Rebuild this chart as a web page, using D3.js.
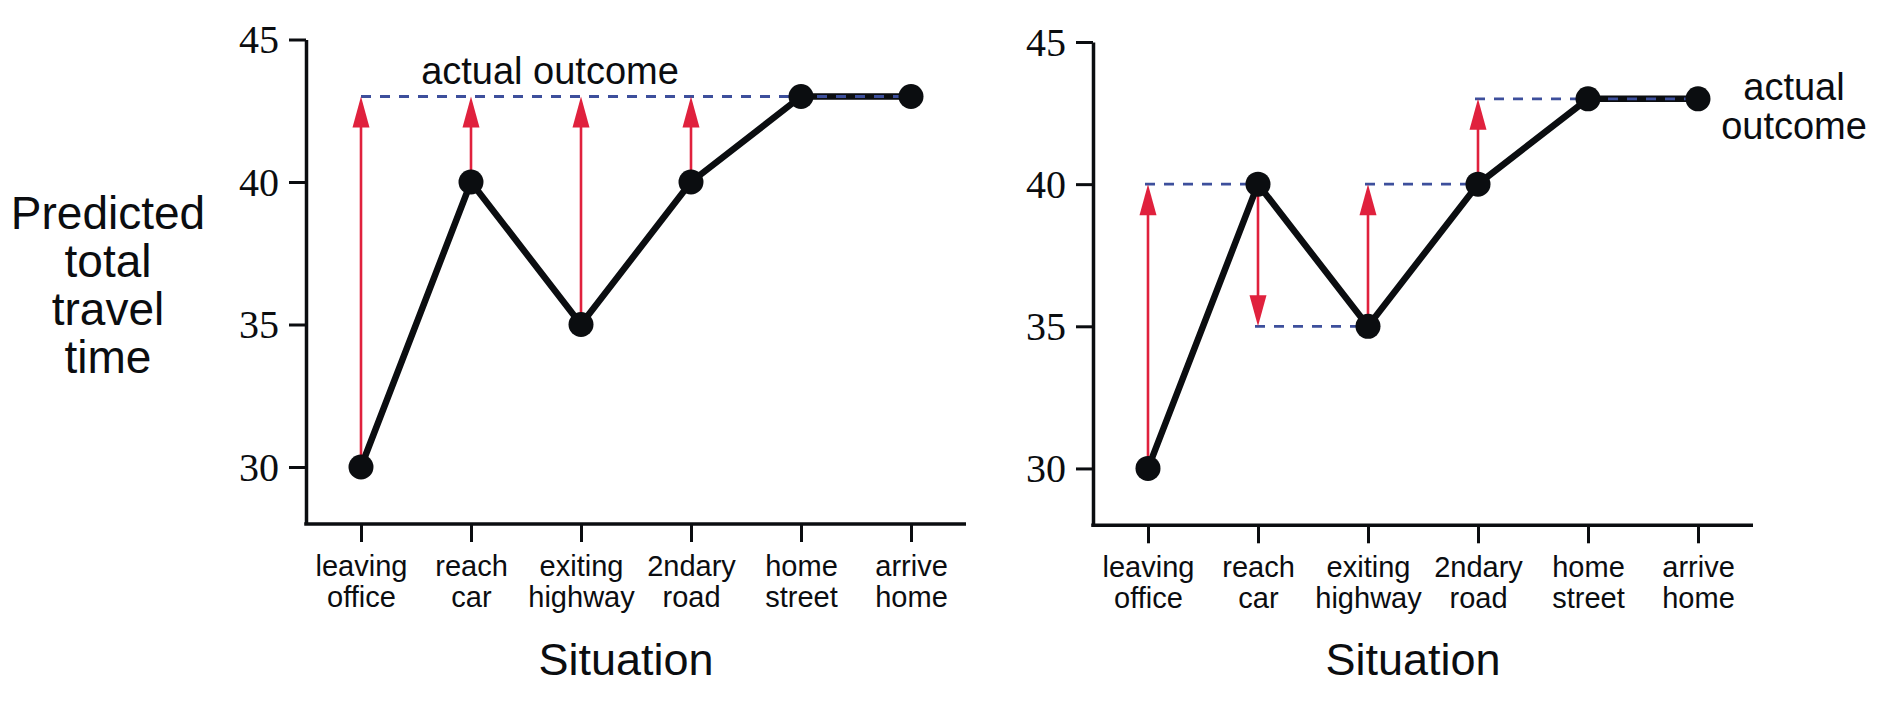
<!DOCTYPE html>
<html>
<head>
<meta charset="utf-8">
<script src="https://cdn.jsdelivr.net/npm/d3@7"></script>
<style>
  html, body { margin: 0; padding: 0; background: #ffffff; }
  svg { display: block; }
</style>
</head>
<body>
<svg id="chart" width="1884" height="704"></svg>
<script>
// ---------------- data ----------------
const situations = ["leaving office", "reach car", "exiting highway", "2ndary road", "home street", "arrive home"];
const predicted = [30, 40, 35, 40, 43, 43];
const actualOutcome = 43;
const yTicks = [30, 35, 40, 45];
const yDomain = [28, 45];
const axisTitleX = "Situation";
const axisTitleY = ["Predicted", "total", "travel", "time"];
const annotation = "actual outcome";

// ---------------- styles ----------------
const RED = "#e0213d";
const BLUE = "#3d4f9c";
const INK = "#0b0d10";
const SANS = "'Liberation Sans', Arial, Helvetica, sans-serif";
const SERIF = "'Liberation Serif', 'Times New Roman', serif";

const svg = d3.select("#chart");
svg.append("rect").attr("width", 1884).attr("height", 704).attr("fill", "#fff");

// y-axis title (shared, left)
const yt = svg.append("text")
  .attr("font-family", SANS).attr("font-size", 46).attr("fill", INK)
  .attr("text-anchor", "middle");
axisTitleY.forEach((w, i) => {
  yt.append("tspan").attr("x", 108).attr("y", 229 + i * 48).text(w);
});

function arrow(g, x, y0, y1) {
  const head = 31, half = 8.5;
  const dir = y1 < y0 ? 1 : -1; // 1 = upward
  g.append("line")
    .attr("x1", x).attr("x2", x)
    .attr("y1", y0).attr("y2", y1 + dir * head * 0.8)
    .attr("stroke", RED).attr("stroke-width", 2.6);
  g.append("path")
    .attr("d", `M${x},${y1} L${x - half},${y1 + dir * head} L${x + half},${y1 + dir * head} Z`)
    .attr("fill", RED);
}

function panel(opts) {
  const g = svg.append("g");
  const x = d3.scalePoint().domain(situations).range(opts.xRange).padding(0.5);
  const y = d3.scaleLinear().domain(yDomain).range(opts.yRange);

  // axes
  const ay = g.append("g").attr("transform", `translate(${opts.xRange[0]},0)`)
    .call(d3.axisLeft(y).tickValues(yTicks).tickSize(17).tickSizeOuter(0).tickPadding(10).tickFormat(d3.format("d")));
  ay.select(".domain").attr("stroke", INK).attr("stroke-width", 3.5);
  ay.selectAll(".tick line").attr("stroke", INK).attr("stroke-width", 3);
  ay.selectAll(".tick text").attr("font-family", SERIF).attr("font-size", 40).attr("fill", INK).attr("dy", "0.33em");

  const ax = g.append("g").attr("transform", `translate(0,${opts.yRange[0]})`)
    .call(d3.axisBottom(x).tickSize(18).tickSizeOuter(0));
  ax.select(".domain").attr("stroke", INK).attr("stroke-width", 3.5)
    .attr("d", `M${opts.xRange[0] - 1.75},0H${opts.xRange[1]}`);
  ax.selectAll(".tick line").attr("stroke", INK).attr("stroke-width", 3);
  ax.selectAll(".tick text").each(function(d) {
    const t = d3.select(this).text(null)
      .attr("font-family", SANS).attr("font-size", 29).attr("fill", INK)
      .attr("dy", null).attr("y", null);
    d.split(" ").forEach((w, i) => {
      t.append("tspan").attr("x", 0).attr("y", 52 + i * 31).text(w);
    });
  });

  g.append("text")
    .attr("x", (opts.xRange[0] + opts.xRange[1]) / 2 - 10)
    .attr("y", 675)
    .attr("text-anchor", "middle")
    .attr("font-family", SANS).attr("font-size", 45).attr("fill", INK)
    .text(axisTitleX);

  const pts = situations.map((s, i) => ({ s, v: predicted[i] }));

  // black line
  g.append("path").datum(pts)
    .attr("d", d3.line().x(d => x(d.s)).y(d => y(d.v)))
    .attr("fill", "none").attr("stroke", INK).attr("stroke-width", 6.5).attr("stroke-linejoin", "round");

  opts.draw(g, x, y);

  // dots
  g.selectAll("circle.pt").data(pts).join("circle")
    .attr("class", "pt")
    .attr("cx", d => x(d.s)).attr("cy", d => y(d.v)).attr("r", 12.5)
    .attr("fill", INK);
}

// Left panel: Monte Carlo — every prediction moves toward the actual outcome
panel({
  xRange: [306, 966],
  yRange: [524, 39.5],
  draw(g, x, y) {
    g.append("line")
      .attr("x1", x(situations[0])).attr("x2", x(situations[situations.length - 1]))
      .attr("y1", y(actualOutcome)).attr("y2", y(actualOutcome))
      .attr("stroke", BLUE).attr("stroke-width", 2.8).attr("stroke-dasharray", "10,9");
    situations.forEach((s, i) => {
      if (predicted[i] !== actualOutcome) arrow(g, x(s), y(predicted[i]), y(actualOutcome));
    });
    g.append("text")
      .attr("x", 550).attr("y", 84)
      .attr("text-anchor", "middle")
      .attr("font-family", SANS).attr("font-size", 38).attr("fill", INK)
      .text(annotation);
  }
});

// Right panel: TD — each prediction moves toward the next one
panel({
  xRange: [1093, 1753],
  yRange: [525.3, 42],
  draw(g, x, y) {
    for (let i = 0; i < situations.length - 1; i++) {
      if (predicted[i] === predicted[i + 1]) continue;
      let j = i + 1;
      while (j + 1 < situations.length && predicted[j + 1] === predicted[i + 1]) j++;
      g.append("line")
        .attr("x1", x(situations[i]) - 3).attr("x2", x(situations[j]))
        .attr("y1", y(predicted[i + 1])).attr("y2", y(predicted[i + 1]))
        .attr("stroke", BLUE).attr("stroke-width", 2.8).attr("stroke-dasharray", "10,9");
      arrow(g, x(situations[i]), y(predicted[i]), y(predicted[i + 1]));
    }
    const t = g.append("text")
      .attr("text-anchor", "middle")
      .attr("font-family", SANS).attr("font-size", 38).attr("fill", INK);
    annotation.split(" ").forEach((w, i) => {
      t.append("tspan").attr("x", 1794).attr("y", 100 + i * 39).text(w);
    });
  }
});
</script>
</body>
</html>
